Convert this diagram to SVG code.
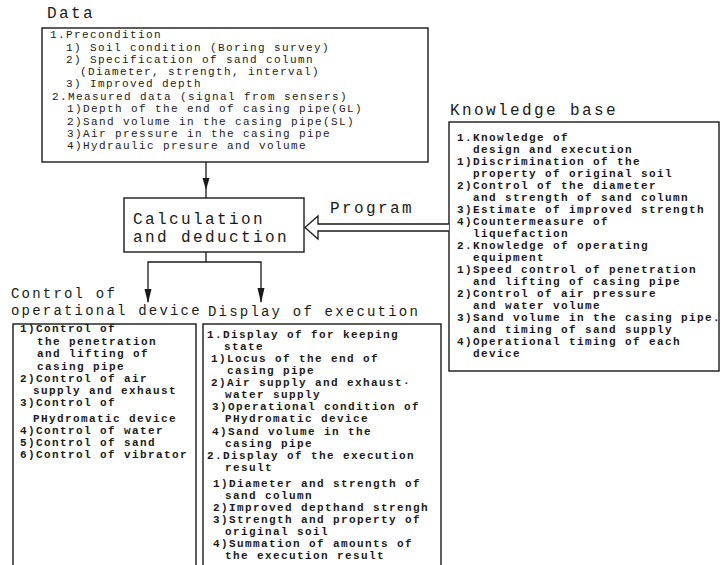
<svg xmlns="http://www.w3.org/2000/svg" width="721" height="565" viewBox="0 0 721 565">
<style>
.t{font-family:"Liberation Mono","DejaVu Sans Mono",monospace;font-size:11px;letter-spacing:1.4px;fill:#1a1a1a;font-weight:bold}
.d{font-weight:normal}
.h{font-family:"Liberation Mono","DejaVu Sans Mono",monospace;font-size:16px;letter-spacing:2.4px;fill:#1a1a1a}
.h2{font-family:"Liberation Mono","DejaVu Sans Mono",monospace;font-size:14px;letter-spacing:2.2px;fill:#1a1a1a}
.box{fill:none;stroke:#1a1a1a;stroke-width:1.4}
.ln{fill:none;stroke:#1a1a1a;stroke-width:1.3}
.ah{fill:#1a1a1a;stroke:none}
</style>
<rect width="721" height="565" fill="#fff"/>

<g id="data">
<text class="h" x="47" y="18">Data</text>
<rect class="box" x="42" y="28" width="386" height="134"/>
<text class="t d" x="50" y="38">1.Precondition</text>
<text class="t d" x="66" y="51">1) Soil condition (Boring survey)</text>
<text class="t d" x="66" y="63">2) Specification of sand column</text>
<text class="t d" x="80" y="75">(Diameter, strength, interval)</text>
<text class="t d" x="66" y="87">3) Improved depth</text>
<text class="t d" x="52" y="100">2.Measured data (signal from sensers)</text>
<text class="t d" x="67" y="112">1)Depth of the end of casing pipe(GL)</text>
<text class="t d" x="67" y="125">2)Sand volume in the casing pipe(SL)</text>
<text class="t d" x="67" y="137">3)Air pressure in the casing pipe</text>
<text class="t d" x="67" y="149">4)Hydraulic presure and volume</text>
</g>

<g id="knowledge">
<text class="h" x="450" y="115">Knowledge base</text>
<rect class="box" x="449" y="122" width="270" height="249"/>
<text class="t" x="457" y="141">1.Knowledge of</text>
<text class="t" x="473" y="153">design and execution</text>
<text class="t" x="457" y="165">1)Discrimination of the</text>
<text class="t" x="473" y="177">property of original soil</text>
<text class="t" x="457" y="189">2)Control of the diameter</text>
<text class="t" x="473" y="201">and strength of sand column</text>
<text class="t" x="457" y="213">3)Estimate of improved strength</text>
<text class="t" x="457" y="225">4)Countermeasure of</text>
<text class="t" x="473" y="237">liquefaction</text>
<text class="t" x="457" y="249">2.Knowledge of operating</text>
<text class="t" x="473" y="261">equipment</text>
<text class="t" x="457" y="273">1)Speed control of penetration</text>
<text class="t" x="473" y="285">and lifting of casing pipe</text>
<text class="t" x="457" y="297">2)Control of air pressure</text>
<text class="t" x="473" y="309">and water volume</text>
<text class="t" x="457" y="321">3)Sand volume in the casing pipe.</text>
<text class="t" x="473" y="333">and timing of sand supply</text>
<text class="t" x="457" y="345">4)Operational timing of each</text>
<text class="t" x="473" y="357">device</text>
</g>

<g id="calc">
<rect class="box" x="124" y="198" width="180" height="54"/>
<text class="h" x="133" y="224">Calculation</text>
<text class="h" x="133" y="242">and deduction</text>
</g>

<g id="control">
<text class="h2" x="11" y="298">Control of</text>
<text class="h2" x="11" y="315">operational device</text>
<rect class="box" x="13" y="324" width="183" height="260"/>
<text class="t" x="20" y="332">1)Control of</text>
<text class="t" x="37" y="345">the penetration</text>
<text class="t" x="37" y="357">and lifting of</text>
<text class="t" x="37" y="370">casing pipe</text>
<text class="t" x="20" y="382">2)Control of air</text>
<text class="t" x="33" y="394">supply and exhaust</text>
<text class="t" x="20" y="406">3)Control of</text>
<text class="t" x="33" y="422">PHydromatic device</text>
<text class="t" x="20" y="434">4)Control of water</text>
<text class="t" x="20" y="446">5)Control of sand</text>
<text class="t" x="20" y="458">6)Control of vibrator</text>
</g>

<g id="display">
<text class="h2" x="208" y="316">Display of execution</text>
<rect class="box" x="203" y="324" width="238" height="260"/>
<text class="t" x="207" y="338">1.Display of for keeping</text>
<text class="t" x="224" y="350">state</text>
<text class="t" x="211" y="362">1)Locus of the end of</text>
<text class="t" x="227" y="374">casing pipe</text>
<text class="t" x="211" y="386">2)Air supply and exhaust·</text>
<text class="t" x="225" y="398">water supply</text>
<text class="t" x="212" y="410">3)Operational condition of</text>
<text class="t" x="225" y="422">PHydromatic device</text>
<text class="t" x="212" y="435">4)Sand volume in the</text>
<text class="t" x="225" y="447">casing pipe</text>
<text class="t" x="207" y="459">2.Display of the execution</text>
<text class="t" x="225" y="471">result</text>
<text class="t" x="213" y="487">1)Diameter and strength of</text>
<text class="t" x="225" y="499">sand column</text>
<text class="t" x="213" y="511">2)Improved depthand strengh</text>
<text class="t" x="213" y="523">3)Strength and property of</text>
<text class="t" x="225" y="535">original soil</text>
<text class="t" x="213" y="547">4)Summation of amounts of</text>
<text class="t" x="225" y="559">the execution result</text>
</g>

<g id="connectors">
<line class="ln" x1="206" y1="162" x2="206" y2="198"/>
<polygon class="ah" points="202.5,178 209.5,178 206,190"/>
<path d="M449,224 L318,224 L318,216 L305,227.5 L318,239 L318,231 L449,231" fill="#fff" stroke="#1a1a1a" stroke-width="1.3"/>
<text class="h" x="330" y="213">Program</text>
<polyline class="ln" points="206,252 206,262"/>
<polyline class="ln" points="148,302 148,262 261,262 261,302"/>
<polygon class="ah" points="144.5,289 151.5,289 148,303"/>
<polygon class="ah" points="257.5,288 264.5,288 261,303"/>
</g>
</svg>
